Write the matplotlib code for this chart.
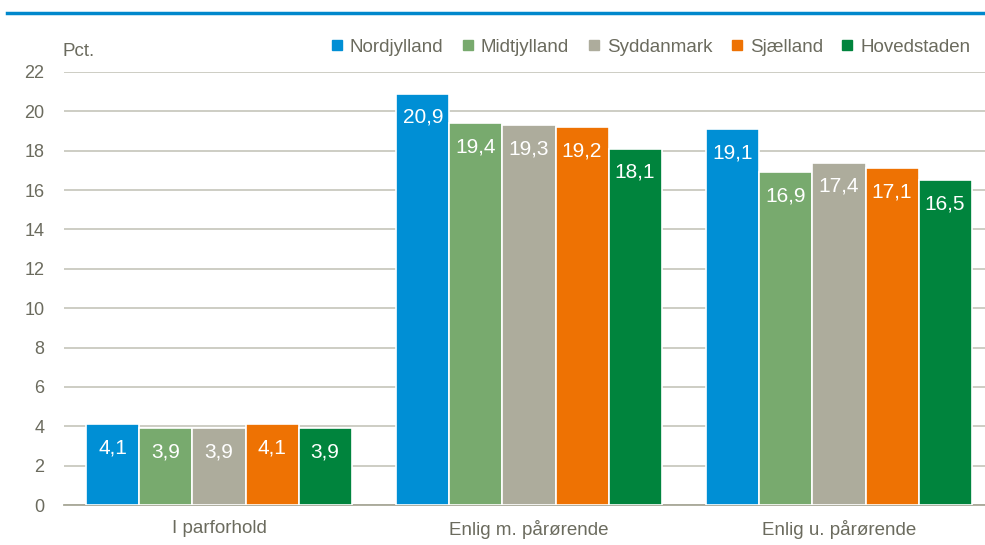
import numpy as np
import matplotlib
matplotlib.use('Agg')
import matplotlib.pyplot as plt
from matplotlib.lines import Line2D

plt.rcParams['font.family'] = ['Liberation Sans', 'DejaVu Sans']

categories = ['I parforhold', 'Enlig m. pårørende', 'Enlig u. pårørende']
regions = ['Nordjylland', 'Midtjylland', 'Syddanmark', 'Sjælland', 'Hovedstaden']
colors = ['#008FD5', '#78AA6E', '#ADAC9C', '#EE7203', '#00843D']
values = {
    'Nordjylland': [4.1, 20.9, 19.1],
    'Midtjylland': [3.9, 19.4, 16.9],
    'Syddanmark': [3.9, 19.3, 17.4],
    'Sjælland': [4.1, 19.2, 17.1],
    'Hovedstaden': [3.9, 18.1, 16.5],
}

txt = '#6B6B5E'
grid = '#C9C9BF'

fig = plt.figure(figsize=(9.85, 5.45), dpi=100)
ax = fig.add_axes([64/985, 40/545, 921/985, 433/545])

x = np.arange(len(categories))
w = 0.171
for i, r in enumerate(regions):
    xs = x + (i - 2) * w
    bars = ax.bar(xs, values[r], w, color=colors[i], edgecolor='white', linewidth=1.2, zorder=3)
    for b, v in zip(bars, values[r]):
        ax.annotate(('%.1f' % v).replace('.', ','), (b.get_x() + b.get_width()/2, v),
                    xytext=(0, -17), textcoords='offset points', ha='center', va='center',
                    color='white', fontsize=15, zorder=4)

ax.set_xlim(-0.5, -0.5 + 921/310)
ax.set_ylim(0, 22)
ax.set_yticks(range(0, 23, 2))
ax.yaxis.grid(True, color=grid, linewidth=1.3, zorder=0)
ax.set_axisbelow(True)
ax.set_xticks(x)
ax.set_xticklabels(categories)
ax.tick_params(axis='both', length=0, colors=txt)
ax.tick_params(axis='y', pad=14, labelsize=13)
ax.tick_params(axis='x', pad=11, labelsize=13.5)
for s in ['left', 'right', 'top']:
    ax.spines[s].set_visible(False)
ax.spines['bottom'].set_color('#A8A898')
ax.spines['bottom'].set_linewidth(1.3)

fig.text(62/985, 1 - 52/545, 'Pct.', color=txt, fontsize=13.5, va='center', ha='left')

handles = [Line2D([], [], marker='s', linestyle='none', markersize=7, color=c) for c in colors]
leg = fig.legend(handles, regions, loc='center right', bbox_to_anchor=(978/985, 1 - 47/545),
                 ncol=5, frameon=False, fontsize=13.5, handletextpad=0.2, columnspacing=0.8,
                 handlelength=1.0, borderaxespad=0)
for t in leg.get_texts():
    t.set_color(txt)

fig.add_artist(Line2D([7/985, 1], [1 - 13/545, 1 - 13/545], color='#0088CC', linewidth=2.5))

fig.savefig('out.png', dpi=100)
